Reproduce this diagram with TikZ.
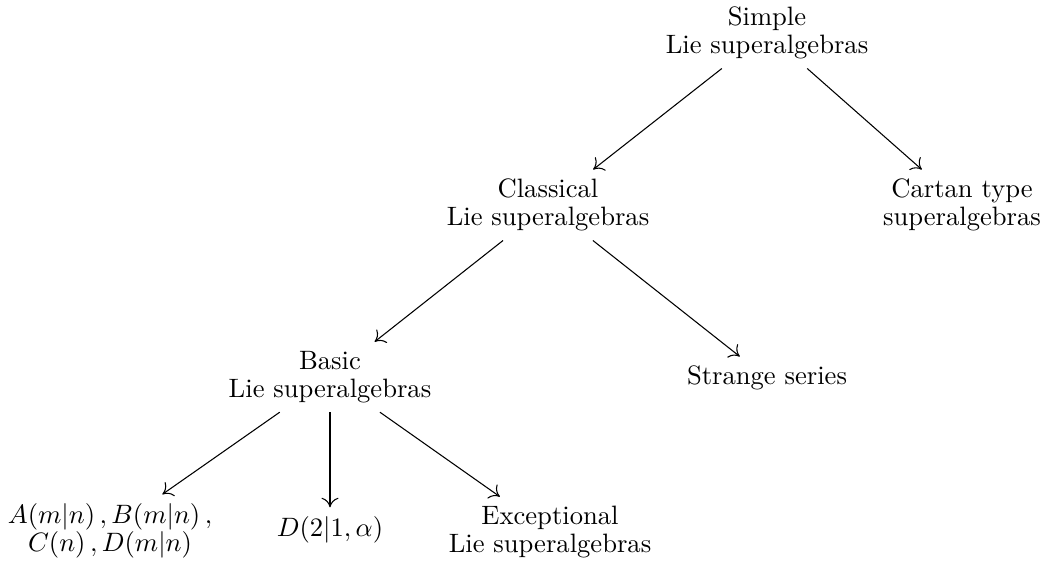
\documentclass[tikz,border=0pt]{standalone}
\usetikzlibrary{arrows.meta}
\begin{document}
\begin{tikzpicture}[x=0.013215cm,y=-0.013215cm,
  lbl/.style={align=center,font=\fontsize{10pt}{10.5pt}\selectfont},
  arr/.style={-{Computer Modern Rightarrow[length=3.6pt,width=6.4pt]}}]
\useasboundingbox (0,0) rectangle (1048,581);
\node[lbl] (simple) at (767,33) {Simple\\Lie superalgebras};
\node[lbl] (classical) at (548,205) {Classical\\Lie superalgebras};
\node[lbl] (cartan) at (962,205) {Cartan type\\superalgebras};
\node[lbl] (basic) at (330,377) {Basic\\Lie superalgebras};
\node[lbl] (strange) at (767,378) {Strange series};
\node[lbl] (abcd) at (110,531) {$A(m|n)\,,B(m|n)\,,$\\$C(n)\,,D(m|n)$};
\node[lbl] (d21) at (330,530) {$D(2|1,\alpha)$};
\node[lbl] (exc) at (550,532) {Exceptional\\Lie superalgebras};
\draw[arr] (simple) -- (classical);
\draw[arr] (simple) -- (cartan);
\draw[arr] (classical) -- (basic);
\draw[arr] (classical) -- (strange);
\draw[arr] (basic) -- (abcd);
\draw[arr] (basic) -- (d21);
\draw[arr] (basic) -- (exc);
\end{tikzpicture}
\end{document}
